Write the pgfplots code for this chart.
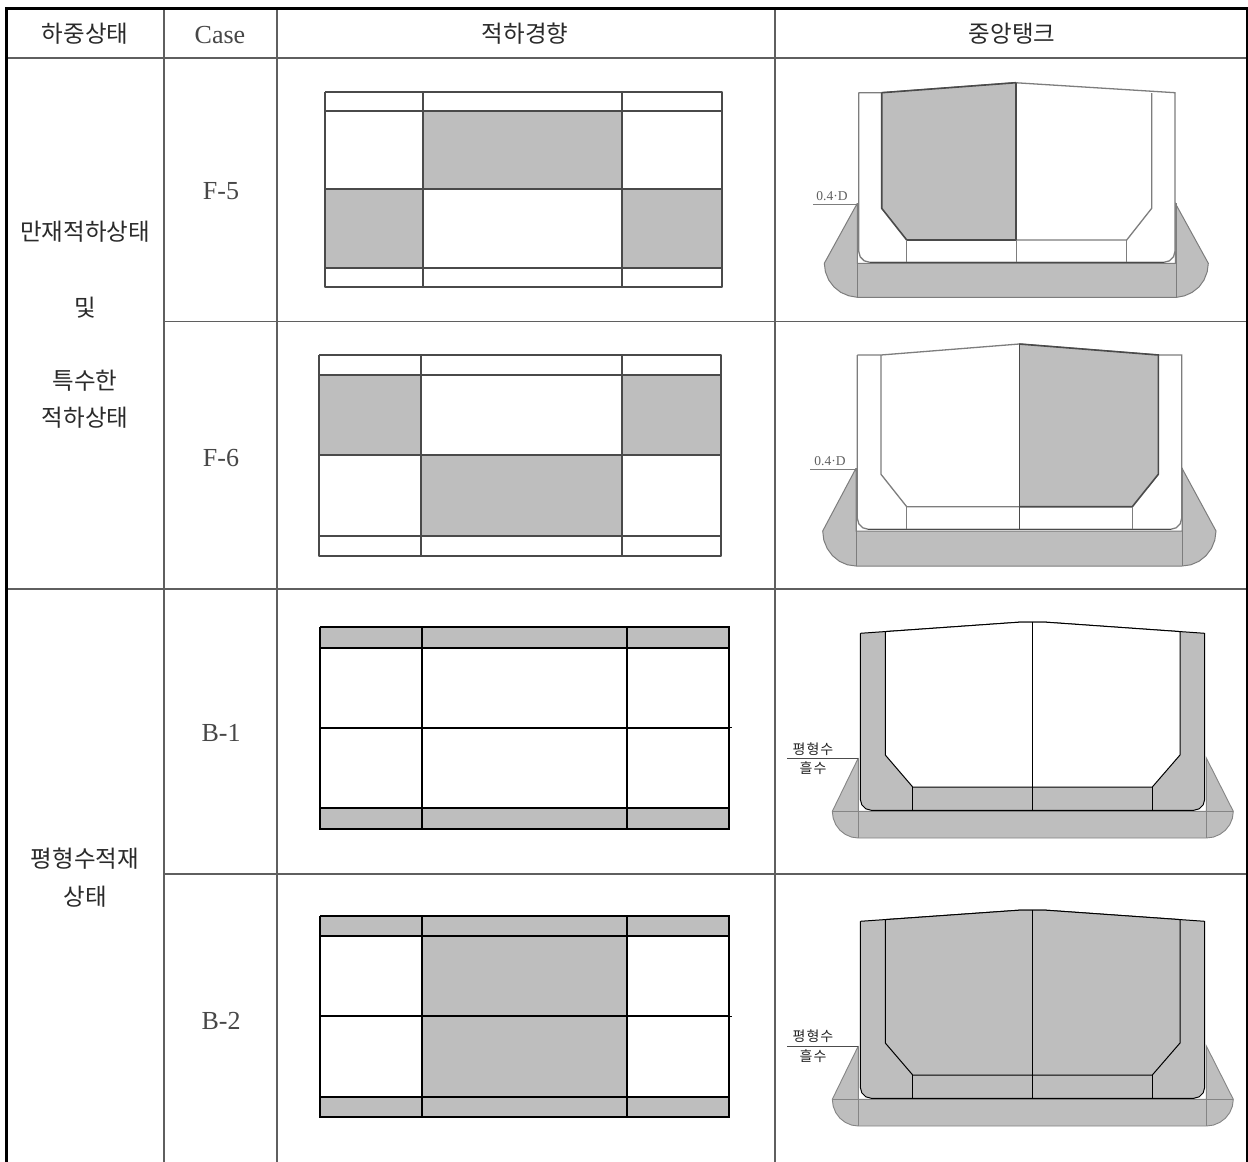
\documentclass[border=0pt]{standalone}
\usepackage{fontspec}
\usepackage{pgfplots}
\usepackage{pgfplotstable}
\pgfplotsset{compat=1.18}
\setmainfont{Liberation Serif}
\newfontfamily\kr{Noto Sans CJK KR}
\definecolor{fillgrey}{HTML}{BEBEBE}
\definecolor{gridc}{HTML}{5F5F5F}
\definecolor{fline}{HTML}{4A4A4A}
\definecolor{fthin}{HTML}{7D7D7D}
\definecolor{bilge}{HTML}{858585}
\definecolor{txt}{HTML}{2A2A2A}
\pgfplotstableread{
x y
858.3 758
832.3 811.3
833.2 818.2
835.8 824.7
839.9 830.2
845.3 834.4
851.6 837.1
858.3 838
1206.3 838
1213.3 837.1
1219.8 834.4
1225.4 830.2
1229.7 824.7
1232.4 818.2
1233.3 811.3
1206.3 758
1206.3 811.3
858.3 811.3
858.3 758
}\Bbilge
\pgfplotstableread{
x y
860.3 633.3
1021.7 622
1043.3 622
1204.7 633.3
1204.7 799.3
1203.2 804.8
1199.2 808.8
1193.7 810.3
871.3 810.3
865.8 808.8
861.8 804.8
860.3 799.3
860.3 633.3
}\Bhull
\pgfplotstableread{
x y
885.3 631.6
1021.7 622
1043.3 622
1180 631.6
1180 755
1152.3 787
912.7 787
885.3 755
885.3 631.6
}\Binner
\pgfplotstableread{
x y
832.3 811.3
1233.3 811.3
}\Bline
\pgfplotstableread{
x y
858.3 758
858.3 838
}\BvL
\pgfplotstableread{
x y
1206.3 758
1206.3 838
}\BvR
\pgfplotstableread{
x y
1032.3 622
1032.3 810.3
}\Bc
\pgfplotstableread{
x y
912.7 787
912.7 810.3
}\BhL
\pgfplotstableread{
x y
1152.3 787
1152.3 810.3
}\BhR
\pgfplotstableread{
x y
787.3 758.3
858.3 758.3
}\Bwl
\newcommand\Cell[4]{\addplot[fill=fillgrey,draw=none] coordinates {(#1,#2)(#3,#2)(#3,#4)(#1,#4)(#1,#2)};}
\newcommand\PlanF[9]{%
\addplot[planf] coordinates {(#1,#5)(#4,#5)(#4,#9)(#1,#9)(#1,#5)};
\addplot[planf] coordinates {(#2,#5)(#2,#9)};
\addplot[planf] coordinates {(#3,#5)(#3,#9)};
\addplot[planf] coordinates {(#1,#6)(#4,#6)};
\addplot[planf] coordinates {(#1,#7)(#4,#7)};
\addplot[planf] coordinates {(#1,#8)(#4,#8)};
}
\newcommand\PlanB[9]{%
\addplot[planb] coordinates {(#1,#5)(#4,#5)(#4,#9)(#1,#9)(#1,#5)};
\addplot[planb] coordinates {(#2,#5)(#2,#9)};
\addplot[planb] coordinates {(#3,#5)(#3,#9)};
\addplot[planb] coordinates {(#1,#6)(#4,#6)};
\addplot[planb] coordinates {(#1,#7)(#4,#7)};
\addplot[planb] coordinates {(#1,#8)(#4,#8)};
}
\newcommand\BSection[2]{%
\addplot[fill=fillgrey,draw=bilge,line width=0.9pt] table[y expr=\thisrow{y}+#1] {\Bbilge};
\addplot[draw=bilge,line width=0.9pt] table[y expr=\thisrow{y}+#1] {\Bline};
\addplot[draw=bilge,line width=0.9pt] table[y expr=\thisrow{y}+#1] {\BvL};
\addplot[draw=bilge,line width=0.9pt] table[y expr=\thisrow{y}+#1] {\BvR};
\addplot[fill=fillgrey,draw=black,line width=1pt] table[y expr=\thisrow{y}+#1] {\Bhull};
\addplot[fill=#2,draw=black,line width=1pt] table[y expr=\thisrow{y}+#1] {\Binner};
\addplot[draw=black,line width=0.9pt] table[y expr=\thisrow{y}+#1] {\Bc};
\addplot[draw=black,line width=1pt] table[y expr=\thisrow{y}+#1] {\BhL};
\addplot[draw=black,line width=1pt] table[y expr=\thisrow{y}+#1] {\BhR};
\addplot[draw=black!70,line width=0.7pt] table[y expr=\thisrow{y}+#1] {\Bwl};
}
\newcommand\lbl[1]{#1}
\tikzset{
  grid line/.style={draw=gridc,line width=1.1pt},
  kt/.style={font=\kr\fontsize{23.5}{27}\selectfont,text=txt,inner sep=0pt,anchor=center},
  lt/.style={font=\fontsize{26}{30}\selectfont,text=black!72,inner sep=0pt,anchor=center},
  small kr/.style={font=\kr\fontsize{14}{16}\selectfont,text=black!85,inner sep=0pt,anchor=center},
  od/.style={font=\fontsize{13.5}{15}\selectfont,text=black!62,inner sep=0pt,anchor=center},
  planf/.style={draw=fline,line width=2pt,line join=round},
  planb/.style={draw=black,line width=2pt,line join=miter},
}
\begin{document}
\begin{tikzpicture}
\begin{axis}[
  scale only axis,
  width=1248pt,height=1162pt,
  xmin=0,xmax=1248,ymin=0,ymax=1162,
  y dir=reverse,
  axis lines=none,
  axis background/.style={fill=white},
  clip=true,
]
% table grid
\addplot[grid line] coordinates {(8,58)(1247,58)};
\addplot[grid line] coordinates {(164,321.5)(1247,321.5)};
\addplot[grid line,line width=1.7pt] coordinates {(8,589)(1247,589)};
\addplot[grid line] coordinates {(164,874)(1247,874)};
\addplot[grid line] coordinates {(164,9)(164,1162)};
\addplot[grid line] coordinates {(277,9)(277,1162)};
\addplot[grid line] coordinates {(775,9)(775,1162)};
\addplot[draw=black,line width=1.8pt] coordinates {(1246.6,8)(1246.6,1162)};
\addplot[draw=black,line width=3.4pt] coordinates {(6.7,7)(6.7,1162)};
\addplot[draw=black,line width=3pt] coordinates {(5,8.5)(1248,8.5)};
% F-5 plan
\Cell{423.3}{111}{621.7}{189}
\Cell{325}{189}{423.3}{267.7}
\Cell{621.7}{189}{721.7}{267.7}
\PlanF{325}{423.3}{621.7}{721.7}{91.7}{111}{189}{267.7}{287.3}
% F-6 plan
\Cell{319.3}{375}{420.7}{455.3}
\Cell{621.7}{375}{721}{455.3}
\Cell{420.7}{455.3}{621.7}{535.7}
\PlanF{319.3}{420.7}{621.7}{721}{355}{375}{455.3}{535.7}{555.7}
% B-1 plan
\Cell{320}{627.3}{729.3}{647.7}
\Cell{320}{808.3}{729.3}{828.7}
\PlanB{320}{422}{626.7}{729.3}{627.3}{647.7}{727.7}{808.3}{828.7}
\addplot[draw=black,line width=1pt] coordinates {(729,727.5)(731.5,727.5)};
% B-2 plan
\Cell{320}{916}{729.3}{936}
\Cell{320}{1097}{729.3}{1117}
\Cell{422}{936}{626.7}{1097}
\PlanB{320}{422}{626.7}{729.3}{916}{936}{1016}{1097}{1117}
\addplot[draw=black,line width=1pt] coordinates {(729,1016)(731.5,1016)};
% F-5 section
\addplot[fill=fillgrey,draw=fthin,line width=1pt] coordinates {(857.3,203.3)(824.3,263.3)(825.4,271.8)(828.7,280)(834,287)(840.8,292.4)(848.8,295.8)(857.3,297.3)(1176.7,297.3)(1184.6,295.8)(1192.1,292.4)(1199,287)(1204,280)(1207.2,271.8)(1208.3,263.3)(1175.3,203.3)(1175.3,263.3)(857.3,263.3)(857.3,203.3)};
\addplot[draw=fthin,line width=1pt] coordinates {(857.3,203.3)(857.3,297.3)};
\addplot[draw=fthin,line width=1pt] coordinates {(1176.7,203.3)(1176.7,297.3)};
\addplot[fill=white,draw=fthin,line width=1.3pt] coordinates {(858.7,92.7)(881.7,92.7)(1015,82.7)(1175,92.7)(1175,251.3)(1173.5,256.8)(1169.5,260.8)(1164,262.3)(869.7,262.3)(864.2,260.8)(860.2,256.8)(858.7,251.3)(858.7,92.7)};
\addplot[fill=fillgrey,draw=none] coordinates {(881.7,92.7)(1016,82.7)(1016,240)(906.7,240)(881.7,208.3)(881.7,92.7)};
\addplot[draw=fline,line width=1.6pt] coordinates {(881.7,92.7)(1016,82.7)};
\addplot[draw=fline,line width=1.6pt] coordinates {(881.7,92.7)(881.7,208.3)(906.7,240)(1016,240)};
\addplot[draw=fthin,line width=1.3pt] coordinates {(1016,240)(1126.7,240)(1151.7,208.3)(1151.7,93)};
\addplot[draw=fline,line width=1.7pt] coordinates {(1016,82.7)(1016,240)};
\addplot[draw=fthin,line width=1.3pt] coordinates {(1016.7,240)(1016.7,262.3)};
\addplot[draw=fthin,line width=1.3pt] coordinates {(906.7,240)(906.7,262.3)};
\addplot[draw=fthin,line width=1.3pt] coordinates {(1126.7,240)(1126.7,262.3)};
\addplot[draw=fline,line width=1.4pt] coordinates {(869.7,262.5)(1164,262.5)};
\addplot[draw=fthin,line width=0.8pt] coordinates {(813,204.7)(857,204.7)};
% F-6 section
\addplot[fill=fillgrey,draw=fthin,line width=1pt] coordinates {(856,468.3)(822.7,531)(823.8,540.1)(827.2,548.5)(832.5,555.7)(839.4,561.3)(847.4,564.8)(856,566)(1182,566)(1190.8,564.8)(1199,561.3)(1206,555.7)(1211.4,548.5)(1214.8,540.1)(1216,531)(1182,468.3)(1182,531)(856,531)(856,468.3)};
\addplot[draw=fthin,line width=1pt] coordinates {(856,468.3)(856,566)};
\addplot[draw=fthin,line width=1pt] coordinates {(1182,468.3)(1182,566)};
\addplot[fill=white,draw=fthin,line width=1.3pt] coordinates {(857.3,355)(881,355)(1019.3,344)(1158.3,355)(1181.7,355)(1181.7,518.3)(1180.2,523.8)(1176.2,527.8)(1170.7,529.3)(868.3,529.3)(862.8,527.8)(858.8,523.8)(857.3,518.3)(857.3,355)};
\addplot[fill=fillgrey,draw=none] coordinates {(1019.3,344)(1158.3,355)(1158.3,474.3)(1132.3,506.7)(1019.3,506.7)(1019.3,344)};
\addplot[draw=fthin,line width=1.3pt] coordinates {(881,355)(881,474.3)(906.7,506.7)(1019.3,506.7)};
\addplot[draw=fline,line width=1.6pt] coordinates {(1019.3,344)(1158.3,355)(1158.3,474.3)(1132.3,506.7)(1019.3,506.7)};
\addplot[draw=fline,line width=1.6pt] coordinates {(1019.3,344)(1019.3,529.3)};
\addplot[draw=fthin,line width=1.3pt] coordinates {(906.7,506.7)(906.7,529.3)};
\addplot[draw=fthin,line width=1.3pt] coordinates {(1132.3,506.7)(1132.3,529.3)};
\addplot[draw=fline,line width=1.4pt] coordinates {(868.3,529.5)(1170.7,529.5)};
\addplot[draw=fthin,line width=0.8pt] coordinates {(810,469.3)(856,469.3)};
% B sections
\BSection{0}{white}
\BSection{288}{fillgrey}
% text
\node[kt] at (axis cs:85,34) {하중상태};
\node[lt] at (axis cs:220,35) {Case};
\node[kt] at (axis cs:525,34) {적하경향};
\node[kt] at (axis cs:1012,34) {중앙탱크};
\node[lt] at (axis cs:221,191) {F-5};
\node[lt] at (axis cs:221,458) {F-6};
\node[lt] at (axis cs:221,733) {B-1};
\node[lt] at (axis cs:221,1021) {B-2};
\node[kt] at (axis cs:85,232) {만재적하상태};
\node[kt] at (axis cs:85,308) {및};
\node[kt] at (axis cs:85,381) {특수한};
\node[kt] at (axis cs:85,418) {적하상태};
\node[kt] at (axis cs:85,859) {평형수적재};
\node[kt] at (axis cs:85,897) {상태};
\node[od] at (axis cs:832,196) {0.4·D};
\node[od] at (axis cs:830,461) {0.4·D};
\node[small kr] at (axis cs:813,749) {평\kern1pt 형\kern1pt 수};
\node[small kr] at (axis cs:813,768) {흘\kern1pt 수};
\node[small kr] at (axis cs:813,1036) {평\kern1pt 형\kern1pt 수};
\node[small kr] at (axis cs:813,1056) {흘\kern1pt 수};
\end{axis}
\end{tikzpicture}
\end{document}
